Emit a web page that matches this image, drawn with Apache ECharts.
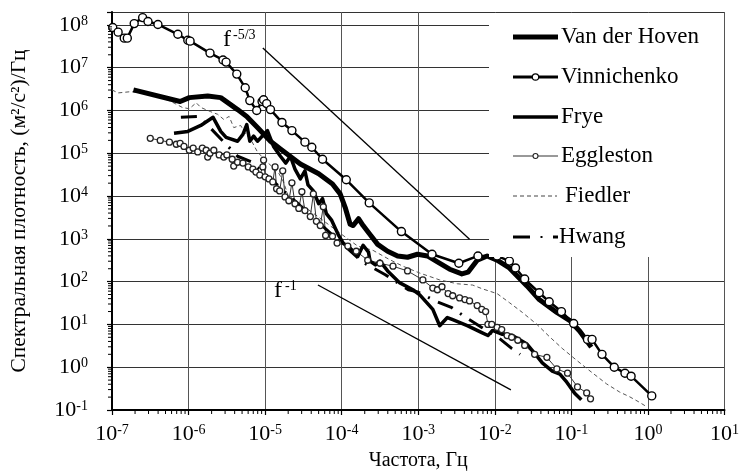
<!DOCTYPE html>
<html>
<head>
<meta charset="utf-8">
<title>Спектральная плотность</title>
<script src="https://cdn.jsdelivr.net/npm/echarts@6.0.0/dist/echarts.min.js"></script>
<style>
  html, body { margin: 0; padding: 0; background: #fff; }
  #chart { width: 742px; height: 476px; }
</style>
</head>
<body>
<div id="chart"></div>
<script>
// values, each pair is [log10 f (Hz), log10 S]
const vanDerHoven = [
  [-6.72, 6.48], [-6.11, 6.21], [-5.99, 6.30], [-5.75, 6.34], [-5.58, 6.30], [-5.36, 6.02],
  [-5.24, 5.86], [-5.10, 5.60], [-4.93, 5.28], [-4.80, 5.10], [-4.54, 4.75], [-4.30, 4.52],
  [-4.12, 4.28], [-4.02, 4.05], [-3.95, 3.71], [-3.89, 3.34], [-3.85, 3.31], [-3.78, 3.47],
  [-3.72, 3.31], [-3.63, 3.10], [-3.53, 2.87], [-3.40, 2.71], [-3.27, 2.60], [-3.14, 2.57],
  [-3.01, 2.64], [-2.88, 2.60], [-2.75, 2.46], [-2.59, 2.29], [-2.43, 2.18], [-2.35, 2.22],
  [-2.23, 2.50], [-2.10, 2.60], [-1.97, 2.50], [-1.81, 2.32], [-1.58, 1.90], [-1.42, 1.58],
  [-1.19, 1.28], [-1.02, 1.09], [-0.89, 0.84], [-0.74, 0.47]
]
const vinnichenko = [
  [-6.99, 7.94], [-6.92, 7.83], [-6.84, 7.69], [-6.80, 7.69], [-6.71, 8.03], [-6.60, 8.17],
  [-6.53, 8.08], [-6.40, 8.01], [-6.14, 7.78], [-6.01, 7.64], [-5.98, 7.62], [-5.72, 7.34],
  [-5.55, 7.18], [-5.51, 7.13], [-5.37, 6.85], [-5.26, 6.53], [-5.20, 6.23], [-5.11, 6.00],
  [-5.04, 6.21], [-5.02, 6.25], [-4.98, 6.16], [-4.93, 6.02], [-4.78, 5.72], [-4.65, 5.53],
  [-4.48, 5.26], [-4.39, 5.14], [-4.25, 4.86], [-3.94, 4.38], [-3.64, 3.84], [-3.22, 3.17],
  [-2.82, 2.64], [-2.47, 2.43], [-2.22, 2.60], [-1.97, 2.60], [-1.81, 2.48], [-1.73, 2.32],
  [-1.61, 2.06], [-1.42, 1.74], [-1.29, 1.53], [-1.13, 1.30], [-0.97, 1.02], [-0.79, 0.65],
  [-0.73, 0.65], [-0.60, 0.30], [-0.44, 0.00], [-0.30, -0.14], [-0.22, -0.21], [0.05, -0.67]
]
const frye = [
  [-6.19, 5.47], [-6.01, 5.51], [-5.84, 5.65], [-5.68, 5.84], [-5.58, 5.51], [-5.51, 5.37],
  [-5.36, 5.28], [-5.29, 5.44], [-5.24, 5.67], [-5.20, 5.28], [-5.15, 5.40], [-5.10, 5.28],
  [-4.97, 5.53], [-4.89, 5.16], [-4.80, 4.93], [-4.73, 4.77], [-4.67, 4.93], [-4.61, 4.63],
  [-4.54, 4.40], [-4.48, 4.59], [-4.44, 4.26], [-4.37, 4.12], [-4.30, 3.82], [-4.25, 3.94],
  [-4.20, 3.59], [-4.13, 3.43], [-4.04, 3.08], [-3.98, 2.90], [-3.89, 2.78], [-3.79, 2.59],
  [-3.72, 2.85], [-3.65, 2.69], [-3.63, 2.48], [-3.56, 2.39], [-3.50, 2.48], [-3.40, 2.25],
  [-3.27, 2.02], [-3.24, 1.97], [-3.07, 1.81], [-2.98, 1.69], [-2.81, 1.35], [-2.72, 0.97],
  [-2.62, 1.16], [-2.55, 1.11], [-2.36, 0.97], [-2.17, 0.81], [-2.09, 0.74], [-2.03, 0.86],
  [-1.90, 0.77], [-1.77, 0.74], [-1.58, 0.54], [-1.45, 0.26], [-1.38, 0.10], [-1.25, -0.09],
  [-1.15, -0.16], [-1.06, -0.35], [-0.96, -0.60], [-0.87, -0.76]
]
const eggleston = [
  [-6.50, 5.35], [-6.37, 5.30], [-6.25, 5.26], [-6.16, 5.21], [-6.11, 5.23], [-6.06, 5.16],
  [-5.99, 5.07], [-5.94, 5.12], [-5.88, 5.03], [-5.82, 5.12], [-5.77, 5.07], [-5.75, 4.91],
  [-5.72, 5.00], [-5.67, 5.07], [-5.60, 4.96], [-5.54, 4.91], [-5.50, 4.96], [-5.43, 4.86],
  [-5.41, 4.70], [-5.36, 4.79], [-5.29, 4.77], [-5.22, 4.68], [-5.16, 4.63], [-5.12, 4.56],
  [-5.07, 4.49], [-5.03, 4.68], [-5.02, 4.84], [-5.00, 4.45], [-4.95, 4.40], [-4.90, 4.33],
  [-4.87, 4.68], [-4.85, 4.17], [-4.81, 4.12], [-4.77, 4.59], [-4.74, 3.98], [-4.69, 3.89],
  [-4.65, 4.31], [-4.61, 3.82], [-4.56, 3.71], [-4.52, 4.10], [-4.48, 3.66], [-4.41, 3.52],
  [-4.37, 4.05], [-4.33, 3.41], [-4.28, 3.31], [-4.24, 3.75], [-4.21, 3.08], [-4.12, 3.06],
  [-4.06, 2.90], [-3.92, 2.83], [-3.81, 2.71], [-3.66, 2.50], [-3.50, 2.43], [-3.33, 2.36],
  [-3.14, 2.25], [-2.94, 2.04], [-2.81, 1.85], [-2.75, 1.81], [-2.69, 1.88], [-2.61, 1.72],
  [-2.55, 1.67], [-2.46, 1.62], [-2.39, 1.58], [-2.33, 1.55], [-2.23, 1.44], [-2.17, 1.35],
  [-2.12, 1.30], [-2.09, 1.00], [-2.04, 1.00], [-1.97, 0.93], [-1.91, 0.88], [-1.84, 0.74],
  [-1.78, 0.70], [-1.70, 0.63], [-1.61, 0.51], [-1.48, 0.30], [-1.32, 0.23], [-1.19, -0.04],
  [-1.05, -0.14], [-0.92, -0.46], [-0.80, -0.60], [-0.75, -0.74]
]
const fiedler = [
  [-7.00, 6.48], [-6.92, 6.41], [-6.75, 6.44], [-6.49, 6.37], [-6.25, 6.23], [-6.08, 6.07],
  [-5.99, 6.04], [-5.90, 6.18], [-5.84, 6.07], [-5.71, 5.97], [-5.62, 5.91], [-5.54, 5.79],
  [-5.47, 5.86], [-5.41, 5.60], [-5.32, 5.65], [-5.25, 5.44], [-5.19, 5.33], [-5.10, 5.03],
  [-4.99, 4.82], [-4.83, 4.56], [-4.76, 4.33], [-4.70, 4.01], [-4.54, 3.82], [-4.31, 3.52],
  [-4.02, 3.13], [-3.79, 2.83], [-3.59, 2.73], [-3.39, 2.53], [-3.20, 2.36], [-2.98, 2.20],
  [-2.72, 2.04], [-2.49, 1.95], [-2.29, 1.92], [-2.16, 1.83], [-1.97, 1.72], [-1.81, 1.51],
  [-1.64, 1.28], [-1.45, 1.00], [-1.29, 0.72], [-1.12, 0.44], [-0.93, 0.16], [-0.77, -0.07],
  [-0.54, -0.39], [-0.37, -0.58], [-0.24, -0.69], [-0.12, -0.81], [-0.02, -0.92]
]
const hwang = [
  [-6.10, 5.84], [-5.86, 5.86], [-5.36, 4.93], [-5.17, 4.79], [-3.73, 2.46], [-3.43, 2.16],
  [-3.13, 1.81], [-3.01, 1.76], [-2.78, 1.55], [-2.56, 1.39], [-2.36, 1.14], [-2.17, 0.93],
  [-1.96, 0.70], [-1.78, 0.44], [-1.67, 0.30]
]
// reference slopes f^-5/3 and f^-1
const slope53 = [[-5.03, 7.46], [-2.33, 2.99]]
const slope1 = [[-4.31, 1.92], [-1.79, -0.53]]

const seriesNames = ['Van der Hoven', 'Vinnichenko', 'Frye', 'Eggleston', 'Fiedler', 'Hwang']
const xMin = 1e-7
const xMax = 10
const yMin = 0.1
const yMax = 2e8

const SERIF = 'Liberation Serif'

const toPoints = (arr) => arr.map(p => [Math.pow(10, p[0]), Math.pow(10, p[1])])

const powerLabel = (value) => {
  const e = Math.log10(value)
  const r = Math.round(e)
  if (Math.abs(e - r) > 1e-6) return ''
  return '{b|10}{s|' + r + '}'
}

const labelRich = {
  b: { fontFamily: SERIF, fontSize: 22, color: '#000' },
  s: { fontFamily: SERIF, fontSize: 14, color: '#000', verticalAlign: 'top', padding: [0, 0, 6, 0] }
}

// log minor ticks (2..9 x 10^k) drawn through the axes
const minorTicks = []
for (let k = -7; k < 1; k++) {
  for (let m = 2; m < 10; m++) minorTicks.push([m * Math.pow(10, k), yMin, 1])
}
for (let k = -1; k < 9; k++) {
  for (let m = 2; m < 10; m++) {
    const v = m * Math.pow(10, k)
    if (v < yMax) minorTicks.push([xMin, v, 0])
  }
}

const lineSeries = (name, data, lineStyle, extra) => Object.assign({
  name: name,
  type: 'line',
  data: toPoints(data),
  symbol: 'none',
  lineStyle: Object.assign({ color: '#000', join: 'round' }, lineStyle),
  silent: true,
  z: 3
}, extra || {})

// hand drawn legend box, like the original
const legendY = [37, 77, 117, 156, 196, 237]
const legendGraphics = () => {
  const els = [{
    type: 'rect', z: 100,
    shape: { x: 489, y: 13, width: 235, height: 244 },
    style: { fill: '#fff' }
  }]
  const seg = (x1, x2, y, style) => ({
    type: 'line', z: 101,
    shape: { x1: x1, y1: y, x2: x2, y2: y },
    style: Object.assign({ stroke: '#000' }, style)
  })
  els.push(seg(513, 558, legendY[0], { lineWidth: 5 }))
  els.push(seg(513, 558, legendY[1], { lineWidth: 3 }))
  els.push({ type: 'circle', z: 102, shape: { cx: 535.5, cy: legendY[1], r: 3.2 }, style: { fill: '#fff', stroke: '#000', lineWidth: 1.2 } })
  els.push(seg(513, 558, legendY[2], { lineWidth: 3.5 }))
  els.push(seg(513, 558, legendY[3], { lineWidth: 1, stroke: '#333' }))
  els.push({ type: 'circle', z: 102, shape: { cx: 535.5, cy: legendY[3], r: 2.5 }, style: { fill: '#fff', stroke: '#222', lineWidth: 1.1 } })
  els.push(seg(513, 557, legendY[4], { lineWidth: 1, stroke: '#444', lineDash: [4, 3] }))
  els.push(seg(513, 530, legendY[5], { lineWidth: 3 }))
  els.push(seg(540.5, 542.5, legendY[5], { lineWidth: 2 }))
  els.push(seg(553, 558, legendY[5], { lineWidth: 3 }))
  const textX = [561, 561, 561, 561, 565, 559]
  seriesNames.forEach((name, i) => {
    els.push({
      type: 'text', z: 102,
      style: {
        x: textX[i], y: legendY[i], text: name,
        font: '23px "' + SERIF + '"', fill: '#000', verticalAlign: 'middle'
      }
    })
  })
  // slope labels
  const slopeText = (x, y, main, sup, supDx) => [
    { type: 'text', z: 102, style: { x: x, y: y, text: main, font: '24px "' + SERIF + '"', fill: '#000', verticalAlign: 'middle' } },
    { type: 'text', z: 102, style: { x: x + supDx, y: y - 5, text: sup, font: '14px "' + SERIF + '"', fill: '#000', verticalAlign: 'middle' } }
  ]
  return els.concat(slopeText(223, 40, 'f', '-5/3', 10), slopeText(274, 291, 'f', '-1', 11))
}

const initChart = () => {
  const chart = echarts.init(document.getElementById('chart'))

  const option = {
    animation: false,
    backgroundColor: '#fff',
    grid: { left: 110, right: 17, top: 12, bottom: 63 },
    xAxis: {
      type: 'log',
      logBase: 10,
      min: xMin,
      max: xMax,
      name: 'Частота, Гц',
      nameLocation: 'middle',
      nameGap: 41,
      nameTextStyle: { fontFamily: SERIF, fontSize: 20, color: '#000' },
      axisLine: { onZero: false, lineStyle: { color: '#000', width: 2 } },
      axisTick: { inside: false, length: 5, lineStyle: { color: '#000', width: 1.2 } },
      axisLabel: { margin: 13, formatter: powerLabel, rich: labelRich },
      splitLine: { show: true, lineStyle: { color: '#555', width: 1 } }
    },
    yAxis: {
      type: 'log',
      logBase: 10,
      min: yMin,
      max: yMax,
      name: 'Спектральная плотность, (м²/с²)/Гц',
      nameLocation: 'middle',
      nameGap: 82,
      nameTextStyle: { fontFamily: SERIF, fontSize: 21.5, color: '#000' },
      axisLine: { onZero: false, lineStyle: { color: '#000', width: 2 } },
      axisTick: { inside: false, length: 5, lineStyle: { color: '#000', width: 1.2 } },
      axisLabel: { margin: 24, formatter: powerLabel, rich: labelRich },
      splitLine: { show: true, lineStyle: { color: '#333', width: 1 } }
    },
    graphic: legendGraphics(),
    series: [
      lineSeries('Fiedler', fiedler, { color: '#555', width: 1, type: [4, 3] }),
      lineSeries('Eggleston', eggleston, { color: '#333', width: 1 }, {
        symbol: 'circle', symbolSize: 6, showAllSymbol: true,
        itemStyle: { color: '#fff', borderColor: '#222', borderWidth: 1.3 }
      }),
      lineSeries('Hwang', hwang, { width: 3, type: [16, 9, 2, 9] }),
      lineSeries('Frye', frye, { width: 3.5 }),
      lineSeries('Van der Hoven', vanDerHoven, { width: 5 }),
      lineSeries('Vinnichenko', vinnichenko, { width: 2.5 }, {
        symbol: 'circle', symbolSize: 8, showAllSymbol: true,
        itemStyle: { color: '#fff', borderColor: '#000', borderWidth: 1.4 }
      }),
      lineSeries('f-5/3', slope53, { width: 1.3 }),
      lineSeries('f-1', slope1, { width: 1.3 }),
      {
        type: 'custom',
        data: minorTicks,
        clip: false,
        silent: true,
        z: 5,
        renderItem: (params, api) => {
          const p = api.coord([api.value(0), api.value(1)])
          const onY = api.value(2) === 0
          return {
            type: 'line',
            shape: onY
              ? { x1: p[0] - 4, y1: p[1], x2: p[0], y2: p[1] }
              : { x1: p[0], y1: p[1], x2: p[0], y2: p[1] + 4 },
            style: { stroke: '#000', lineWidth: 1 }
          }
        }
      }
    ]
  }

  chart.setOption(option)
}

initChart()
</script>
</body>
</html>
